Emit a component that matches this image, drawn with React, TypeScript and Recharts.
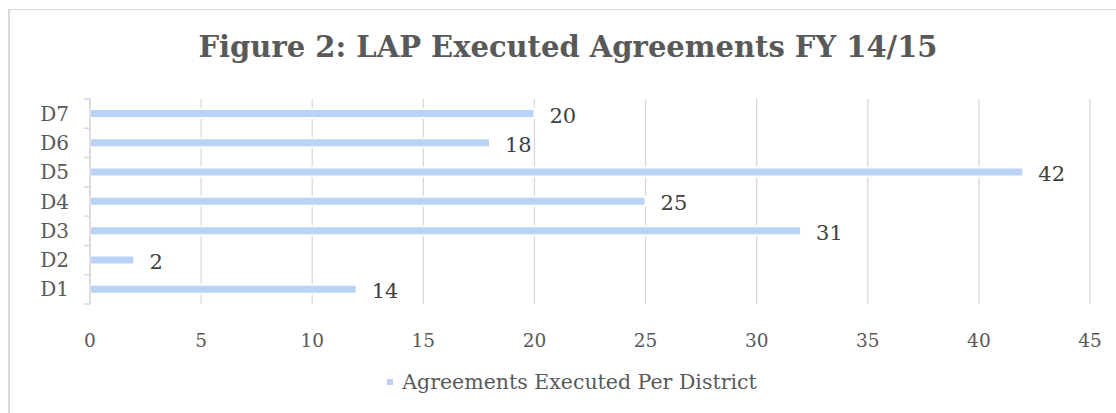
import React from 'react';
import { BarChart, Bar, XAxis, YAxis, CartesianGrid, Legend, LabelList } from 'recharts';

const districts = ['D1', 'D2', 'D3', 'D4', 'D5', 'D6', 'D7'];
const agreements = [12, 2, 32, 25, 42, 18, 20];
const valueLabels = ['14', '2', '31', '25', '42', '18', '20'];
const xTicks = [0, 5, 10, 15, 20, 25, 30, 35, 40, 45];

const data = districts.map((name, i) => ({ name, value: agreements[i], label: valueLabels[i] }));

const FONT = '"DejaVu Serif", Georgia, serif';
const TEXT = '#595959';
const GRID = '#d9d9d9';
const BAR = '#b9d2f5';
const PLOT_H = 205;

const YTick = (props: any) => {
    const { x, y, payload, index } = props;
    const band = PLOT_H / districts.length;
    return (
        <g>
            <line x1={x + 2} x2={x + 8} y1={y - band / 2} y2={y - band / 2} stroke={GRID} strokeWidth={1.5} />
            {index === 0 && (
                <line x1={x + 2} x2={x + 8} y1={y + band / 2} y2={y + band / 2} stroke={GRID} strokeWidth={1.5} />
            )}
            <text x={x - 13} y={y} dy={7} textAnchor="end" fill={TEXT} fontSize={20} fontFamily={FONT}>
                {payload.value}
            </text>
        </g>
    );
};

const ValueLabel = (props: any) => {
    const { x, y, width, height, index } = props;
    return (
        <text x={x + width + 15} y={y + height / 2} dy={9} fill="#404040" fontSize={21} fontFamily={FONT}>
            {valueLabels[index]}
        </text>
    );
};

const LegendContent = () => (
    <div style={{ display: 'flex', justifyContent: 'center', alignItems: 'center', paddingLeft: 54, fontFamily: FONT, fontSize: 20.5, color: TEXT }}>
        <span style={{ width: 6, height: 6, background: BAR, marginRight: 9, display: 'inline-block' }} />
        <span>Agreements Executed Per District</span>
    </div>
);

const App: React.FC = () => {
    return (
        <div style={{ position: 'absolute', left: 0, top: 0, width: 1116, height: 413, background: '#fff', overflow: 'hidden' }}>
            <div style={{ position: 'absolute', left: 8, top: 9, width: 1120, height: 420, borderLeft: `2px solid ${GRID}`, borderTop: `1px solid ${GRID}` }} />
            <div style={{ position: 'absolute', left: 10, top: 30, width: 1116, textAlign: 'center', fontFamily: FONT, fontWeight: 'bold', fontSize: 29, color: TEXT }}>
                Figure 2: LAP Executed Agreements FY 14/15
            </div>
            <div style={{ position: 'absolute', left: 0, top: 0 }}>
                <BarChart width={1116} height={413} data={data} layout="vertical" margin={{ top: 99, right: 26, left: 0, bottom: 0 }}>
                    <CartesianGrid horizontal={false} stroke={GRID} strokeWidth={1.3} />
                    <XAxis
                        type="number"
                        domain={[0, 45]}
                        ticks={xTicks}
                        axisLine={false}
                        tickLine={false}
                        tickMargin={24}
                        height={60}
                        tick={{ fill: TEXT, fontSize: 18.5, fontFamily: FONT }}
                    />
                    <YAxis
                        type="category"
                        dataKey="name"
                        reversed
                        width={90}
                        axisLine={{ stroke: GRID, strokeWidth: 1.5 }}
                        tickLine={false}
                        tick={<YTick />}
                    />
                    <Legend verticalAlign="bottom" height={49} wrapperStyle={{ top: 370 }} content={<LegendContent />} />
                    <Bar dataKey="value" fill={BAR} barSize={9} stroke="#fff" strokeWidth={2} isAnimationActive={false}>
                        <LabelList dataKey="label" content={<ValueLabel />} />
                    </Bar>
                </BarChart>
            </div>
        </div>
    );
};

export default App;
